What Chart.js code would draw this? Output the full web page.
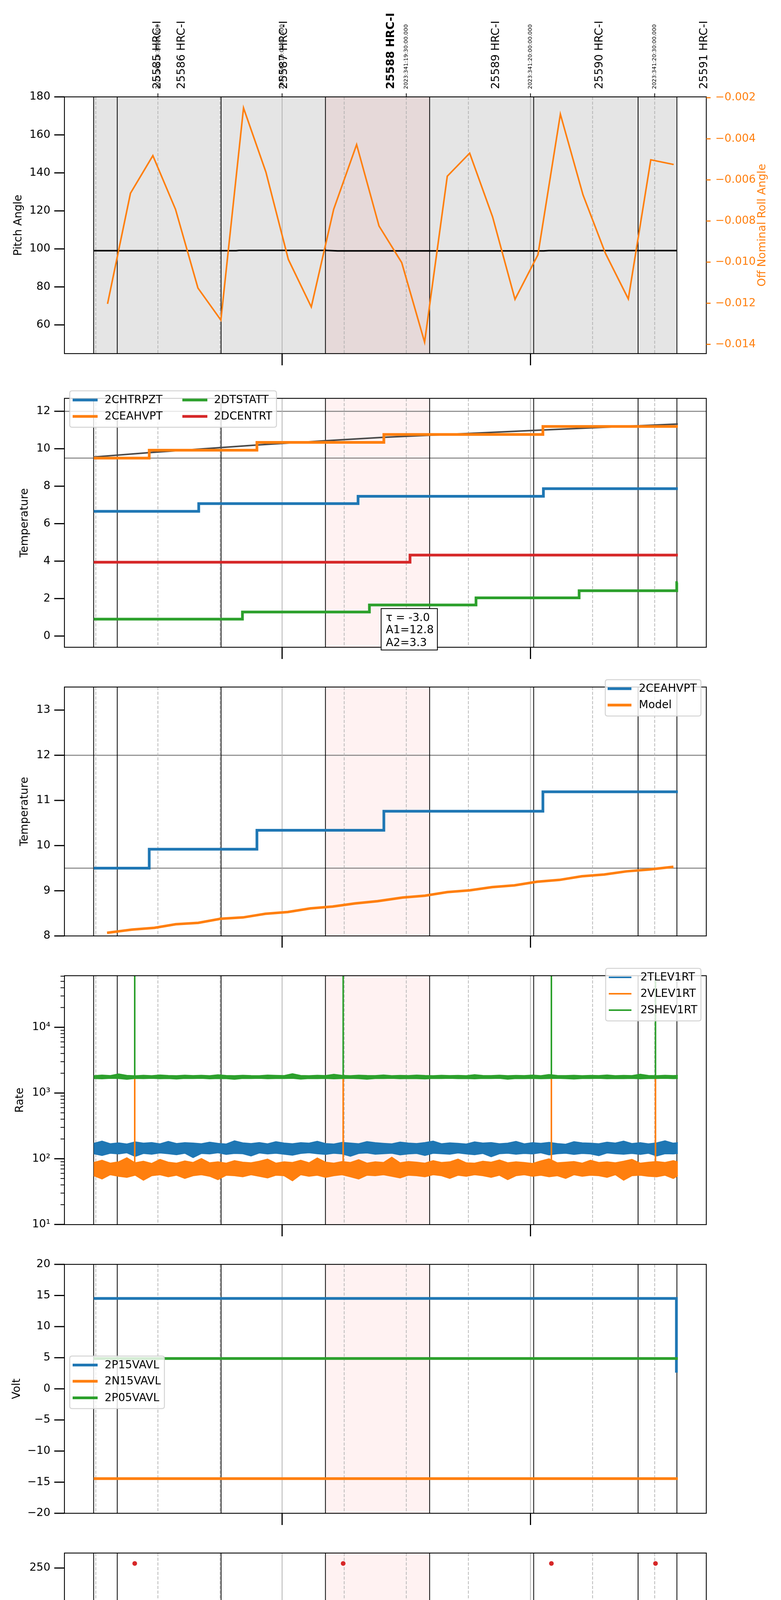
<!DOCTYPE html>
<html>
<head>
<meta charset="utf-8">
<title>HRC-I 2023-12-07</title>
<script src="https://cdn.jsdelivr.net/npm/chart.js@4.4.1/dist/chart.umd.min.js"></script>
<style>
  html, body { margin:0; padding:0; background:#ffffff; }
  #wrap { position:relative; width:2000px; height:6200px; overflow:hidden; background:#ffffff; }
  #wrap canvas { position:absolute; left:0; }
</style>
</head>
<body>
<div id="wrap"></div>
<script>
// ===================== DATA (time = minutes after 2023-12-07 18:00) =====================
const X_MIN = 7.42, X_MAX = 162.47;
const XT_ALL = [15, 30, 45, 60, 75, 90, 105, 120, 135, 150];
const XT_LABELS = ['15', '30', '45', '19h', '15', '30', '45', '20h', '15', '30'];
const XT_MAJOR = [60, 120];
const TOP_TICKS = [30, 60, 90, 120, 150];
const TOP_LABELS = ['2023:341:18:30:00.000', '2023:341:19:00:00.000', '2023:341:19:30:00.000', '2023:341:20:00:00.000', '2023:341:20:30:00.000'];
const OBS_EDGES = [14.48, 20.18, 45.26, 70.47, 95.64, 120.77, 145.99, 155.37];
const OBS_LABELS = ['25585 HRC-I', '25586 HRC-I', '25587 HRC-I', '25588 HRC-I', '25589 HRC-I', '25590 HRC-I', '25591 HRC-I'];
const OBS_LABEL_T = [29.92, 35.80, 60.52, 86.35, 111.73, 136.75, 162.03];
const OBS_BOLD = '25588 HRC-I';
const SHADE = [70.47, 95.64];
const SPIKE_T = [24.4, 74.75, 125.05, 150.2];

// Panel 1: pitch / roll
const PITCH_T = [14.48, 48.9, 49.6, 70.5, 73.4, 123.2, 124.4, 155.37];
const PITCH_V = [99.05, 99.05, 99.2, 99.2, 98.98, 98.98, 99.12, 99.12];
const ROLL_T = [17.83, 23.37, 28.78, 34.25, 39.67, 45.21, 50.68, 56.09, 61.51, 67.05, 72.46, 78.00, 83.41, 88.89, 94.42, 99.90, 105.31, 110.85, 116.26, 121.80, 127.22, 132.69, 138.10, 143.63, 149.06, 154.59];
const ROLL_V = [-0.01203, -0.00665, -0.00482, -0.00743, -0.01126, -0.01282, -0.00250, -0.00562, -0.00987, -0.01218, -0.00743, -0.00428, -0.00824, -0.01002, -0.01389, -0.00582, -0.00470, -0.00780, -0.01181, -0.00964, -0.00280, -0.00673, -0.00957, -0.01179, -0.00502, -0.00525];
const PITCH_TICKS = [60, 80, 100, 120, 140, 160, 180];
const ROLL_TICKS = [-0.002, -0.004, -0.006, -0.008, -0.010, -0.012, -0.014];

// Panel 2: temperatures
const HTRPZT_T = [14.5, 39.86, 78.35, 123.12, 155.6];
const HTRPZT_V = [6.66, 7.07, 7.46, 7.87, 7.87];
const CEAHVPT_T = [14.5, 27.9, 53.92, 84.58, 123.0, 155.6];
const CEAHVPT_V = [9.50, 9.92, 10.34, 10.76, 11.19, 11.19];
const DTSTATT_T = [14.5, 50.42, 81.09, 106.84, 131.75, 155.33, 155.6];
const DTSTATT_V = [0.90, 1.28, 1.66, 2.04, 2.42, 2.85, 2.85];
const DCENTRT_T = [14.5, 90.9, 155.6];
const DCENTRT_V = [3.94, 4.32, 4.32];
const TREND_T = [14.48, 27.9, 53.9, 70.5, 84.6, 95.6, 123.1, 155.6];
const TREND_V = [9.56, 9.79, 10.2, 10.43, 10.61, 10.72, 11.0, 11.32];
const TEMP_TICKS = [0, 2, 4, 6, 8, 10, 12];
const TEMP_LIMITS = [12, 9.5];
const FIT_TEXT = ['τ = -3.0', 'A1=12.8', 'A2=3.3'];

// Panel 3: 2CEAHVPT vs model
const MODEL_T = [17.71, 23.73, 29.14, 34.32, 39.74, 45.14, 50.56, 55.97, 61.39, 66.80, 72.22, 77.63, 83.05, 89.07, 94.48, 99.90, 105.31, 110.73, 116.14, 121.56, 126.97, 132.39, 137.80, 143.22, 148.63, 154.53];
const MODEL_V = [8.07, 8.14, 8.18, 8.26, 8.29, 8.38, 8.41, 8.49, 8.53, 8.61, 8.65, 8.72, 8.77, 8.85, 8.89, 8.97, 9.01, 9.08, 9.12, 9.20, 9.24, 9.32, 9.36, 9.43, 9.47, 9.53];
const TEMP2_TICKS = [8, 9, 10, 11, 12, 13];

// Panel 4: rates (noise envelopes, upper / lower edge)
const RATE_T = [14.5, 16.5, 18.5, 20.5, 22.5, 24.5, 26.5, 28.5, 30.5, 32.5, 34.5, 36.5, 38.5, 40.5, 42.5, 44.5, 46.5, 48.5, 50.5, 52.5, 54.5, 56.5, 58.5, 60.5, 62.5, 64.5, 66.5, 68.5, 70.5, 72.5, 74.5, 76.5, 78.5, 80.5, 82.5, 84.5, 86.5, 88.5, 90.5, 92.5, 94.5, 96.5, 98.5, 100.5, 102.5, 104.5, 106.5, 108.5, 110.5, 112.5, 114.5, 116.5, 118.5, 120.5, 122.5, 124.5, 126.5, 128.5, 130.5, 132.5, 134.5, 136.5, 138.5, 140.5, 142.5, 144.5, 146.5, 148.5, 150.5, 152.5, 154.5, 155.6];
const TLEV_HI = [172, 186, 170, 175, 168, 181, 173, 177, 169, 184, 171, 176, 174, 170, 179, 172, 168, 188, 175, 171, 177, 169, 182, 174, 170, 176, 173, 185, 171, 168, 178, 174, 170, 183, 176, 172, 169, 180, 174, 171, 177, 186, 170, 175, 172, 168, 181, 174, 177, 170, 173, 184, 169, 176, 172, 178, 171, 167, 182, 175, 173, 170, 179, 174, 186, 171, 176, 169, 175, 188, 173, 176];
const TLEV_LO = [119, 112, 121, 118, 123, 108, 120, 117, 122, 119, 115, 121, 104, 120, 118, 123, 116, 120, 119, 110, 122, 118, 121, 117, 113, 120, 123, 119, 116, 121, 118, 109, 120, 122, 117, 119, 121, 114, 118, 120, 112, 121, 119, 117, 122, 118, 115, 120, 107, 119, 121, 117, 120, 118, 123, 114, 119, 121, 116, 120, 118, 111, 122, 119, 117, 120, 116, 121, 110, 119, 118, 120];
const VLEV_HI = [88, 95, 86, 90, 104, 87, 92, 85, 98, 89, 86, 93, 88, 101, 87, 90, 86, 94, 89, 87, 92, 99, 86, 90, 88, 95, 87, 103, 89, 86, 91, 88, 97, 86, 90, 88, 106, 87, 91, 89, 86, 94, 88, 90, 99, 87, 86, 92, 89, 96, 87, 90, 88, 85, 93, 100, 87, 89, 91, 86, 95, 88, 90, 87, 92, 98, 86, 89, 91, 88, 94, 90];
const VLEV_LO = [55, 49, 57, 54, 52, 56, 47, 55, 57, 53, 56, 50, 55, 57, 54, 48, 56, 55, 53, 57, 54, 51, 56, 55, 46, 57, 54, 56, 52, 55, 57, 53, 49, 56, 55, 57, 54, 51, 56, 55, 53, 57, 55, 50, 56, 54, 57, 55, 52, 56, 48, 55, 57, 54, 56, 53, 55, 50, 57, 54, 56, 55, 52, 57, 47, 55, 56, 54, 53, 56, 50, 55];
const SHEV_HI = [1840, 1880, 1850, 1960, 1860, 1835, 1870, 1845, 1890, 1855, 1840, 1875, 1850, 1865, 1845, 1900, 1855, 1840, 1870, 1850, 1845, 1880, 1860, 1850, 1975, 1855, 1845, 1870, 1850, 1935, 1860, 1845, 1875, 1855, 1850, 1890, 1845, 1860, 1850, 1880, 1855, 1845, 1870, 1850, 1860, 1840, 1905, 1855, 1850, 1875, 1845, 1860, 1850, 1880, 1845, 1920, 1855, 1850, 1870, 1845, 1860, 1850, 1885, 1845, 1860, 1850, 1940, 1855, 1845, 1870, 1850, 1860];
const SHEV_LO = [1660, 1640, 1670, 1655, 1610, 1665, 1650, 1670, 1645, 1660, 1630, 1665, 1655, 1670, 1640, 1660, 1650, 1615, 1665, 1655, 1670, 1645, 1660, 1655, 1670, 1625, 1660, 1650, 1665, 1640, 1660, 1670, 1650, 1620, 1660, 1655, 1670, 1645, 1660, 1650, 1635, 1665, 1655, 1670, 1650, 1660, 1640, 1665, 1655, 1670, 1620, 1660, 1650, 1665, 1645, 1660, 1670, 1650, 1630, 1660, 1655, 1670, 1645, 1660, 1650, 1665, 1640, 1660, 1655, 1670, 1650, 1660];
const VLEV_SPIKE = [75, 1700];
const SHEV_SPIKE = [1750, 1e6];
const LOG_TICKS = [10, 100, 1000, 10000];
const LOG_LABELS = ['10¹', '10²', '10³', '10⁴'];
const LOG_MINOR = [20, 30, 40, 50, 60, 70, 80, 90, 200, 300, 400, 500, 600, 700, 800, 900, 2000, 3000, 4000, 5000, 6000, 7000, 8000, 9000, 20000, 30000, 40000, 50000, 60000];

// Panel 5: voltages
const P15_T = [14.5, 155.2, 155.25];
const P15_V = [14.53, 14.53, 2.6];
const N15_T = [14.5, 155.6];
const N15_V = [-14.43, -14.43];
const P05_T = [14.5, 155.6];
const P05_V = [4.88, 4.88];
const VOLT_TICKS = [-20, -15, -10, -5, 0, 5, 10, 15, 20];

// Panel 6: HV monitors
const IMHBLV_T = [14.5, 155.6];
const IMHBLV_V = [86.0, 86.0];
const IMHBLV_OUT = [254.9, 254.9, 254.9, 254.9];
const IMHVLV_T = [14.5, 155.6];
const IMHVLV_V = [79.1, 79.1];
const HV_TICKS = [0, 50, 100, 150, 200, 250];

// Panel 7: detector temps
const IMHVATM_T = [14.5, 23.35, 24.4, 24.43, 34.76, 49.01, 64.67, 74.75, 74.78, 83.77, 108.2, 125.05, 125.08, 138.04, 150.2, 150.23, 155.6];
const IMHVATM_V = [18.12, 18.41, -10, 18.41, 18.70, 19.01, 19.30, -10, 19.30, 19.61, 19.89, -10, 19.89, 20.20, -10, 20.20, 20.20];
const SPHVATM_T = [14.5, 39.1, 41.27, 41.32, 64.01, 91.56, 122.64, 155.6];
const SPHVATM_V = [17.53, 17.82, 17.47, 17.82, 18.12, 18.41, 18.70, 18.70];
const SPINATM_T = [14.5, 131.9, 155.6];
const SPINATM_V = [6.47, 6.97, 6.97];
const IMINATM_T = [14.5, 92.69, 155.6];
const IMINATM_V = [5.06, 5.53, 5.53];
const DET_TICKS = [4, 6, 8, 10, 12, 14, 16, 18, 20];

// Panel 8: FEA temps
const FHTRMZT_T = [14.5, 24.1, 35.9, 47.69, 59.95, 72.69, 85.8, 99.77, 114.67, 122.97, 123.05, 129.29, 145.24, 155.6];
const FHTRMZT_V = [-0.61, -0.23, 0.14, 0.51, 0.90, 1.27, 1.65, 2.03, 2.40, 1.62, 2.40, 2.79, 3.17, 3.17];
const FRADPYT_T = [14.5, 22.12, 34.76, 47.69, 61.27, 75.14, 90.05, 105.52, 122.03, 139.2, 155.6];
const FRADPYT_V = [-3.27, -2.89, -2.50, -2.13, -1.75, -1.37, -0.99, -0.61, -0.23, 0.14, 0.14];
const FEPRATM_T = [14.5, 19.48, 30.71, 42.78, 56.46, 70.66, 85.8, 101.93, 119.77, 138.07, 155.6];
const FEPRATM_V = [1.94, 2.39, 2.81, 3.27, 3.71, 4.16, 4.61, 5.07, 5.53, 6.01, 6.01];
const FE00ATM_T = [14.5, 17.59, 24.4, 24.43, 25.8, 27.98, 28.03, 33.73, 42.97, 49.38, 49.43, 51.89, 58.07, 58.12, 61.65, 62.5, 62.55, 71.27, 74.75, 74.78, 81.84, 92.22, 97.97, 98.02, 103.63, 104.0, 104.05, 114.67, 120.14, 120.19, 125.05, 125.08, 126.75, 130.6, 130.65, 138.92, 150.2, 150.23, 151.65, 155.1, 155.15, 155.6];
const FE00ATM_V = [2.05, 2.35, -10, 2.35, 2.65, 2.3, 2.65, 2.96, 3.25, 2.9, 3.25, 3.55, 3.88, 3.55, 3.84, 3.5, 3.84, 4.13, -10, 4.13, 4.43, 4.73, 5.05, 4.73, 5.02, 4.37, 5.02, 5.29, 5.55, 5.29, -10, 5.29, 5.59, 4.96, 5.59, 5.87, -10, 5.87, 6.15, 6.46, 6.15, 6.15];
const FEA_TICKS = [-2, 0, 2, 4, 6];

// ===================== STYLE / LAYOUT =====================
const C = { blue: '#1f77b4', orange: '#ff7f0e', green: '#2ca02c', red: '#d62728' };
const FONT = "'DejaVu Sans', sans-serif";
Chart.defaults.font.family = FONT;
Chart.defaults.color = '#000';
const PANEL_TOP = [248, 987, 1726, 2465, 3204, 3943, 4682, 5421];
const PANEL_H = 670;
const SPECS = {};

function pts(T, V) { return T.map((t, i) => ({ x: t, y: V[i] })); }
function spikePts(T, range) { const out = []; T.forEach(t => { out.push({ x: t, y: range[0] }, { x: t, y: range[1] }, { x: t, y: null }); }); return out; }
function seg(ctx, x1, y1, x2, y2) { ctx.beginPath(); ctx.moveTo(x1, y1); ctx.lineTo(x2, y2); ctx.stroke(); }
function minus(s) { return String(s).replace('-', '\u2212'); }

function ln(label, T, V, color, lw, extra) {
  return Object.assign({ label, data: pts(T, V), borderColor: color, backgroundColor: color, borderWidth: lw,
    pointRadius: 0, stepped: 'before', fill: false, spanGaps: false }, extra || {});
}

function xScale(show, h) {
  return {
    type: 'linear', min: X_MIN, max: X_MAX,
    afterFit: s => { s.height = h; },
    afterBuildTicks: s => { s.ticks = XT_ALL.map(v => ({ value: v })); },
    grid: { display: false, drawTicks: false }, border: { display: false },
    ticks: {
      display: show, autoSkip: false, maxRotation: 0, minRotation: 0, padding: 3, color: '#000',
      callback: v => { const lab = XT_LABELS[XT_ALL.indexOf(v)]; return XT_MAJOR.includes(v) ? ['', lab] : lab; },
      font: c => (c.tick && XT_MAJOR.includes(c.tick.value)) ? { size: 28, lineHeight: 1.09 } : { size: 18, lineHeight: 1.2 }
    },
    title: show ? { display: true, text: '2023-12-07 (341)', color: '#000', font: { size: 33, lineHeight: 1.2 }, padding: { top: 0, bottom: 2 } } : { display: false }
  };
}

function yScale(min, max, ticks, title, tpad, extra) {
  return Object.assign({
    type: 'linear', position: 'left', min, max,
    afterFit: s => { s.width = 165; },
    afterBuildTicks: s => { s.ticks = ticks.map(v => ({ value: v })); },
    grid: { display: false, drawTicks: false }, border: { display: false },
    ticks: { padding: 36, autoSkip: false, color: '#000', font: { size: 28 }, callback: v => minus(v) },
    title: { display: true, text: title, color: '#000', font: { size: 28, lineHeight: 1.2 }, padding: { top: tpad, bottom: 0 } }
  }, extra || {});
}

function drawLegend(ctx, L, off) {
  const [x1, y1, x2, y2] = L.box;
  const top = y1 - off, bot = y2 - off, r = 6;
  ctx.save();
  ctx.beginPath();
  ctx.moveTo(x1 + r, top); ctx.lineTo(x2 - r, top); ctx.quadraticCurveTo(x2, top, x2, top + r);
  ctx.lineTo(x2, bot - r); ctx.quadraticCurveTo(x2, bot, x2 - r, bot);
  ctx.lineTo(x1 + r, bot); ctx.quadraticCurveTo(x1, bot, x1, bot - r);
  ctx.lineTo(x1, top + r); ctx.quadraticCurveTo(x1, top, x1 + r, top); ctx.closePath();
  ctx.fillStyle = 'rgba(255,255,255,0.8)'; ctx.fill();
  ctx.strokeStyle = 'rgba(204,204,204,0.85)'; ctx.lineWidth = 2.5; ctx.stroke();
  ctx.font = '28px ' + FONT; ctx.textAlign = 'left'; ctx.textBaseline = 'middle';
  L.items.forEach(it => {
    const [label, color, hx1, hx2, tx, cy0] = it; const cy = cy0 - off;
    if (L.dot) {
      ctx.fillStyle = color; ctx.beginPath(); ctx.arc((hx1 + hx2) / 2, cy, 5.5, 0, Math.PI * 2); ctx.fill();
    } else {
      ctx.strokeStyle = color; ctx.lineWidth = L.lw; seg(ctx, hx1, cy, hx2, cy);
    }
    ctx.fillStyle = '#000'; ctx.fillText(label, tx, cy + 1);
  });
  ctx.restore();
}

const decor = {
  id: 'decor',
  beforeDatasetsDraw(chart) {
    const sp = SPECS[chart.canvas.id]; if (!sp) return;
    const { ctx, chartArea: a } = chart;
    const X = v => chart.scales.x.getPixelForValue(v);
    ctx.save();
    ctx.beginPath(); ctx.rect(a.left, a.top, a.width, a.height); ctx.clip();
    if (sp.gray) {
      const g0 = X(OBS_EDGES[0]), g1 = X(OBS_EDGES[OBS_EDGES.length - 1]);
      ctx.fillStyle = '#e5e5e5'; ctx.fillRect(g0, a.top, g1 - g0, a.height);
    }
    const s0 = X(SHADE[0]), s1 = X(SHADE[1]);
    ctx.fillStyle = 'rgba(255,0,0,0.05)'; ctx.fillRect(s0, a.top, s1 - s0, a.height);
    if (sp.hlines) {
      ctx.strokeStyle = '#808080'; ctx.lineWidth = 2.5;
      sp.hlines.forEach(v => { const y = chart.scales.y.getPixelForValue(v); seg(ctx, a.left, y, a.right, y); });
    }
    ctx.strokeStyle = '#b0b0b0'; ctx.lineWidth = 1.8; ctx.setLineDash([8, 4]);
    XT_ALL.filter(v => !XT_MAJOR.includes(v)).forEach(v => seg(ctx, X(v), a.top, X(v), a.bottom));
    ctx.setLineDash([]); ctx.lineWidth = 2;
    XT_MAJOR.forEach(v => seg(ctx, X(v), a.top, X(v), a.bottom));
    ctx.strokeStyle = '#000'; ctx.lineWidth = 2;
    OBS_EDGES.forEach(v => seg(ctx, X(v), a.top, X(v), a.bottom));
    ctx.restore();
  },
  afterDraw(chart) {
    const sp = SPECS[chart.canvas.id]; if (!sp) return;
    const { ctx, chartArea: a } = chart;
    const X = v => chart.scales.x.getPixelForValue(v);
    const off = sp.off;
    ctx.save();
    ctx.strokeStyle = '#000'; ctx.lineWidth = 2.2; ctx.strokeRect(a.left, a.top, a.width, a.height);
    const ys = chart.scales.y;
    ctx.lineWidth = 3;
    ys.ticks.forEach(t => { const y = ys.getPixelForValue(t.value); seg(ctx, a.left - 26, y, a.left, y); });
    if (sp.yMinor) {
      ctx.lineWidth = 2;
      sp.yMinor.forEach(v => { const y = ys.getPixelForValue(v); if (y >= a.top - 1 && y <= a.bottom + 1) seg(ctx, a.left - 10, y, a.left, y); });
    }
    if (chart.scales.y2) {
      const s2 = chart.scales.y2; ctx.strokeStyle = C.orange; ctx.lineWidth = 3;
      s2.ticks.forEach(t => { const y = s2.getPixelForValue(t.value); seg(ctx, a.right, y, a.right + 11, y); });
      ctx.strokeStyle = '#000';
    }
    ctx.lineWidth = 3;
    XT_MAJOR.forEach(v => seg(ctx, X(v), a.bottom, X(v), a.bottom + 30));
    if (sp.xMinor) {
      ctx.lineWidth = 2;
      XT_ALL.filter(v => !XT_MAJOR.includes(v)).forEach(v => seg(ctx, X(v), a.bottom, X(v), a.bottom + 8));
    }
    if (sp.top) {
      ctx.lineWidth = 2; ctx.strokeStyle = '#000';
      TOP_TICKS.forEach(v => seg(ctx, X(v), a.top - 9, X(v), a.top));
      ctx.fillStyle = '#000'; ctx.textAlign = 'left'; ctx.textBaseline = 'middle';
      const baseY = a.top - 20;
      OBS_LABELS.forEach((lab, i) => {
        ctx.save(); ctx.translate(X(OBS_LABEL_T[i]), baseY); ctx.rotate(-Math.PI / 2);
        ctx.font = (lab === OBS_BOLD ? 'bold ' : '') + '28px ' + FONT; ctx.fillText(lab, 0, 0); ctx.restore();
      });
      TOP_LABELS.forEach((lab, i) => {
        ctx.save(); ctx.translate(X(TOP_TICKS[i]), baseY); ctx.rotate(-Math.PI / 2);
        ctx.font = '14px ' + FONT; ctx.fillText(lab, 0, 0); ctx.restore();
      });
    }
    if (sp.rightTitle) {
      ctx.save(); ctx.translate(1953, (a.top + a.bottom) / 2); ctx.rotate(-Math.PI / 2);
      ctx.font = '28px ' + FONT; ctx.fillStyle = C.orange; ctx.textAlign = 'center'; ctx.textBaseline = 'middle';
      ctx.fillText(sp.rightTitle, 0, 0); ctx.restore();
    }
    if (sp.legend) drawLegend(ctx, sp.legend, off);
    if (sp.textbox) {
      const tb = sp.textbox;
      ctx.fillStyle = '#fff'; ctx.fillRect(tb.box[0], tb.box[1] - off, tb.box[2] - tb.box[0], tb.box[3] - tb.box[1]);
      ctx.strokeStyle = '#000'; ctx.lineWidth = 2; ctx.strokeRect(tb.box[0], tb.box[1] - off, tb.box[2] - tb.box[0], tb.box[3] - tb.box[1]);
      ctx.fillStyle = '#000'; ctx.font = '28px ' + FONT; ctx.textAlign = 'left'; ctx.textBaseline = 'middle';
      tb.lines.forEach((t, i) => ctx.fillText(t, tb.x, tb.cy[i] - off));
    }
    ctx.restore();
  }
};
Chart.register(decor);

const wrap = document.getElementById('wrap');
function makePanel(id, top, height, spec, datasets, scales, padRight) {
  const cv = document.createElement('canvas');
  cv.id = id; cv.width = 2000; cv.height = height;
  cv.style.top = top + 'px'; cv.style.width = '2000px'; cv.style.height = height + 'px';
  wrap.appendChild(cv);
  spec.off = top; SPECS[id] = spec;
  datasets.forEach((d, i) => { d.order = 100 - i; });
  const padTop = (id === 'p1') ? PANEL_TOP[0] : 20;
  return new Chart(cv, {
    type: 'line',
    data: { datasets },
    options: {
      responsive: false, animation: false, devicePixelRatio: 1, events: [],
      layout: { padding: { left: 0, right: padRight, top: padTop, bottom: 0 } },
      plugins: { legend: { display: false }, tooltip: { enabled: false } },
      scales
    }
  });
}

// ---------- Panel 1 ----------
makePanel('p1', 0, PANEL_TOP[0] + PANEL_H + 40,
  { gray: true, top: true, rightTitle: 'Off Nominal Roll Angle' },
  [
    ln('Pitch', PITCH_T, PITCH_V, '#000', 4, { stepped: false, yAxisID: 'y' }),
    ln('Roll', ROLL_T, ROLL_V, C.orange, 4, { stepped: false, yAxisID: 'y2' })
  ],
  {
    x: xScale(false, 40),
    y: yScale(44.9, 180, PITCH_TICKS, 'Pitch Angle', 31),
    y2: {
      type: 'linear', position: 'right', min: -0.01445, max: -0.00196,
      afterFit: s => { s.width = 191.3; },
      afterBuildTicks: s => { s.ticks = ROLL_TICKS.map(v => ({ value: v })); },
      grid: { display: false, drawTicks: false }, border: { display: false },
      ticks: { padding: 23, autoSkip: false, color: C.orange, font: { size: 28 }, callback: v => minus(v.toFixed(3)) }
    }
  }, 0);

// ---------- Panel 2 ----------
makePanel('p2', PANEL_TOP[1] - 20, 750,
  {
    hlines: TEMP_LIMITS,
    legend: { lw: 7, box: [178.6, 1000.6, 708, 1093.8], items: [
      ['2CHTRPZT', C.blue, 186, 250, 268, 1024], ['2CEAHVPT', C.orange, 186, 250, 268, 1066],
      ['2DTSTATT', C.green, 467, 531, 548, 1024], ['2DCENTRT', C.red, 467, 531, 548, 1066]] },
    textbox: { box: [976, 1558, 1120, 1664], x: 988, cy: [1583, 1614, 1647], lines: FIT_TEXT }
  },
  [
    ln('trend', TREND_T, TREND_V, '#4a4a4a', 4, { stepped: false }),
    ln('2CHTRPZT', HTRPZT_T, HTRPZT_V, C.blue, 7),
    ln('2CEAHVPT', CEAHVPT_T, CEAHVPT_V, C.orange, 7),
    ln('2DTSTATT', DTSTATT_T, DTSTATT_V, C.green, 7),
    ln('2DCENTRT', DCENTRT_T, DCENTRT_V, C.red, 7)
  ],
  { x: xScale(false, 60), y: yScale(-0.6, 12.69, TEMP_TICKS, 'Temperature', 47) }, 191.3);

// ---------- Panel 3 ----------
makePanel('p3', PANEL_TOP[2] - 20, 750,
  {
    hlines: TEMP_LIMITS,
    legend: { lw: 7, box: [1550, 1740, 1795, 1833], items: [
      ['2CEAHVPT', C.blue, 1556, 1617, 1636, 1763], ['Model', C.orange, 1556, 1617, 1636, 1805]] }
  },
  [
    ln('2CEAHVPT', CEAHVPT_T, CEAHVPT_V, C.blue, 7),
    ln('Model', MODEL_T, MODEL_V, C.orange, 6.5, { stepped: false })
  ],
  { x: xScale(false, 60), y: yScale(8.0, 13.51, TEMP2_TICKS, 'Temperature', 47) }, 191.3);

// ---------- Panel 4 ----------
makePanel('p4', PANEL_TOP[3] - 20, 750,
  {
    yMinor: LOG_MINOR,
    legend: { lw: 4, box: [1551, 2479, 1795, 2613.5], items: [
      ['2TLEV1RT', C.blue, 1559, 1617, 1640, 2502], ['2VLEV1RT', C.orange, 1559, 1617, 1640, 2544],
      ['2SHEV1RT', C.green, 1559, 1617, 1640, 2586]] }
  },
  [
    ln('2TLEV1RT', RATE_T, TLEV_HI, C.blue, 2, { stepped: false, fill: '+1' }),
    ln('2TLEV1RT lo', RATE_T, TLEV_LO, C.blue, 2, { stepped: false }),
    ln('2VLEV1RT', RATE_T, VLEV_HI, C.orange, 2, { stepped: false, fill: '+1' }),
    ln('2VLEV1RT lo', RATE_T, VLEV_LO, C.orange, 2, { stepped: false }),
    { label: '2VLEV1RT spikes', data: spikePts(SPIKE_T, VLEV_SPIKE), borderColor: C.orange, borderWidth: 4, pointRadius: 0, spanGaps: false, fill: false },
    ln('2SHEV1RT', RATE_T, SHEV_HI, C.green, 2, { stepped: false, fill: '+1' }),
    ln('2SHEV1RT lo', RATE_T, SHEV_LO, C.green, 2, { stepped: false }),
    { label: '2SHEV1RT spikes', data: spikePts(SPIKE_T, SHEV_SPIKE), borderColor: C.green, borderWidth: 4, pointRadius: 0, spanGaps: false, fill: false }
  ],
  {
    x: xScale(false, 60),
    y: yScale(9.95, 61000, LOG_TICKS, 'Rate', 35, {
      type: 'logarithmic',
      ticks: { padding: 36, autoSkip: false, color: '#000', font: { size: 28 }, callback: v => LOG_LABELS[LOG_TICKS.indexOf(v)] || '' }
    })
  }, 191.3);

// ---------- Panel 5 ----------
makePanel('p5', PANEL_TOP[4] - 20, 750,
  {
    legend: { lw: 7, box: [178.6, 3471.5, 421, 3606], items: [
      ['2P15VAVL', C.blue, 186, 250, 268, 3494.5], ['2N15VAVL', C.orange, 186, 250, 268, 3536],
      ['2P05VAVL', C.green, 186, 250, 268, 3578.5]] }
  },
  [
    ln('2P15VAVL', P15_T, P15_V, C.blue, 7),
    ln('2N15VAVL', N15_T, N15_V, C.orange, 7),
    ln('2P05VAVL', P05_T, P05_V, C.green, 7)
  ],
  { x: xScale(false, 60), y: yScale(-20, 20, VOLT_TICKS, 'Volt', 27) }, 191.3);

// ---------- Panel 6 ----------
makePanel('p6', PANEL_TOP[5] - 20, 750,
  {
    legend: { dot: true, box: [875, 4423, 1099.5, 4592], items: [
      ['2SPHBLV', C.blue, 909, 920, 964, 4447], ['2SPHVLV', C.orange, 909, 920, 964, 4488.4],
      ['2IMHVLV', C.green, 909, 920, 964, 4529.7], ['2IMHBLV', C.red, 909, 920, 964, 4571]] }
  },
  [
    { label: '2SPHBLV', data: [], borderColor: C.blue, backgroundColor: C.blue, pointRadius: 5.5, showLine: false },
    { label: '2SPHVLV', data: [], borderColor: C.orange, backgroundColor: C.orange, pointRadius: 5.5, showLine: false },
    ln('2IMHVLV', IMHVLV_T, IMHVLV_V, C.green, 12, { stepped: false, borderCapStyle: 'round' }),
    ln('2IMHBLV', IMHBLV_T, IMHBLV_V, C.red, 12, { stepped: false, borderCapStyle: 'round' }),
    { label: '2IMHBLV', data: pts(SPIKE_T, IMHBLV_OUT), showLine: false, pointRadius: 6, pointBorderWidth: 0,
      pointBackgroundColor: C.red, backgroundColor: C.red, borderColor: C.red }
  ],
  { x: xScale(false, 60), y: yScale(0, 266, HV_TICKS, 'HV Monitor', 30) }, 191.3);

// ---------- Panel 7 ----------
makePanel('p7', PANEL_TOP[6] - 20, 750,
  {
    legend: { lw: 7.5, box: [1547, 4929, 1795.5, 5105], items: [
      ['2SPINATM', C.blue, 1553, 1617, 1636.5, 4952], ['2SPHVATM', C.orange, 1553, 1617, 1636.5, 4994],
      ['2IMINATM', C.green, 1553, 1617, 1636.5, 5036], ['2IMHVATM', C.red, 1553, 1617, 1636.5, 5077.7]] }
  },
  [
    ln('2SPINATM', SPINATM_T, SPINATM_V, C.blue, 7.5),
    ln('2SPHVATM', SPHVATM_T, SPHVATM_V, C.orange, 7.5),
    ln('2IMINATM', IMINATM_T, IMINATM_V, C.green, 7.5),
    ln('2IMHVATM', IMHVATM_T, IMHVATM_V, C.red, 7.5)
  ],
  { x: xScale(false, 60), y: yScale(3.56, 21.4, DET_TICKS, 'Detector Temp', 48) }, 191.3);

// ---------- Panel 8 ----------
makePanel('p8', PANEL_TOP[7] - 20, 6200 - (PANEL_TOP[7] - 20),
  {
    xMinor: true,
    legend: { lw: 7.5, box: [178.6, 5433.4, 431, 5610], items: [
      ['2FHTRMZT', C.blue, 186, 250, 268, 5457.5], ['2FRADPYT', C.orange, 186, 250, 268, 5499.3],
      ['2FEPRATM', C.green, 186, 250, 268, 5541], ['2FE00ATM', C.red, 186, 250, 268, 5582.9]] }
  },
  [
    ln('2FHTRMZT', FHTRMZT_T, FHTRMZT_V, C.blue, 7.5),
    ln('2FRADPYT', FRADPYT_T, FRADPYT_V, C.orange, 7.5),
    ln('2FEPRATM', FEPRATM_T, FEPRATM_V, C.green, 7.5),
    ln('2FE00ATM', FE00ATM_T, FE00ATM_V, C.red, 7.5)
  ],
  { x: xScale(true, 6200 - (PANEL_TOP[7] - 20) - 20 - PANEL_H), y: yScale(-3.62, 7.03, FEA_TICKS, 'FEA Temp', 44) }, 191.3);
</script>
</body>
</html>
